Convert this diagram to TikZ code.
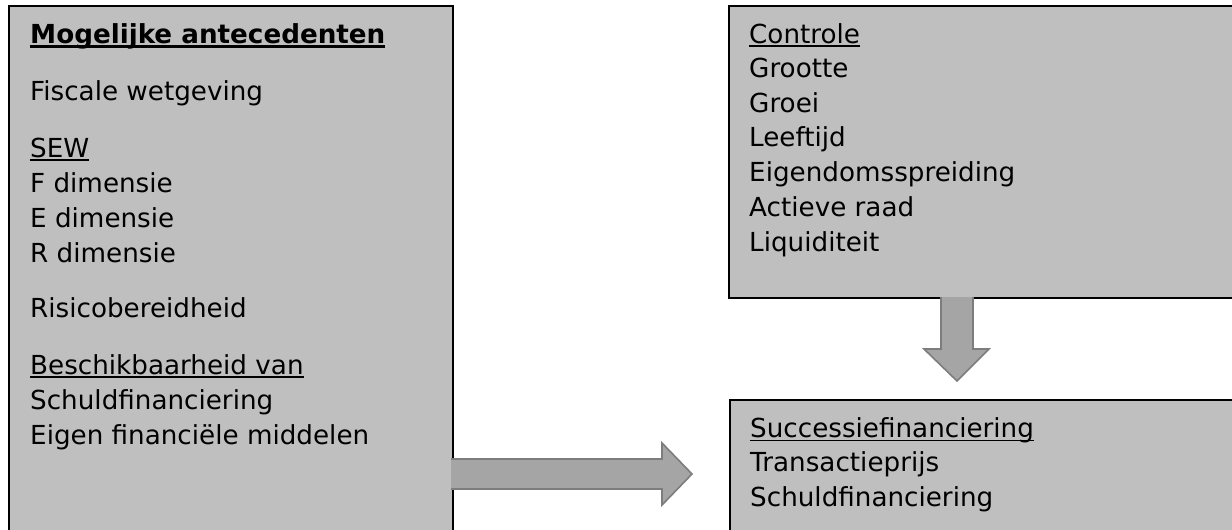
\documentclass[tikz,border=0pt]{standalone}
\usepackage{fontspec}
\setmainfont{DejaVu Sans}
\usetikzlibrary{calc}
\newcommand\myul[1]{\setbox0\hbox{#1}\rlap{\rule[-3.8pt]{\wd0}{1.4pt}}\box0}
\newcommand\myulb[1]{\setbox0\hbox{#1}\rlap{\rule[-4.8pt]{\wd0}{2.4pt}}\box0}
\definecolor{boxgray}{RGB}{191,191,191}
\definecolor{arrowgray}{RGB}{165,165,165}
\definecolor{arrowline}{RGB}{125,125,125}
\tikzset{
  box/.style={draw=black, line width=1.5pt, fill=boxgray, rectangle, inner sep=0pt, anchor=north west},
  txt/.style={anchor=base west, inner sep=0pt, font=\fontsize{26.2}{31}\selectfont},
  fatarrow/.style={draw=arrowline, line width=1.6pt, fill=arrowgray, line join=miter},
}
\begin{document}
\begin{tikzpicture}[x=1pt,y=-1pt]
\useasboundingbox (0,0) rectangle (1232,530);
\clip (0,0) rectangle (1232,530);
\fill[white] (0,0) rectangle (1232,530);
% boxes
\node[box, minimum width=444pt, minimum height=540pt] (ante) at (8,5) {};
\node[box, minimum width=520pt, minimum height=292pt] (contr) at (728,5) {};
\node[box, minimum width=520pt, minimum height=150pt] (succ) at (729,399) {};
% arrows
\draw[fatarrow] (451,459) -- (662,459) -- (662,443) -- (692,474) -- (662,505) -- (662,489) -- (451,489);
\draw[fatarrow] (941,297) -- (941,349) -- (924,349) -- (957,381) -- (989,349) -- (973,349) -- (973,297);
% left texts
\node[txt] (a1) at (30,43) {\bfseries\myulb{Mogelijke antecedenten}};
\node[txt] (a2) at (30,100) {Fiscale wetgeving};
\node[txt] (a3) at (30,157) {\myul{SEW}};
\node[txt] (a4) at (30,192) {F dimensie};
\node[txt] (a5) at (30,227) {E dimensie};
\node[txt] (a6) at (30,262) {R dimensie};
\node[txt] (a7) at (30,317) {Risicobereidheid};
\node[txt] (a8) at (30,374) {\myul{Beschikbaarheid van}};
\node[txt] (a9) at (30,409) {Schuldfinanciering};
\node[txt] (a10) at (30,444) {Eigen financiële middelen};
% top right texts
\node[txt] (c1) at (749,43) {\myul{Controle}};
\node[txt] (c2) at (749,77.5) {Grootte};
\node[txt] (c3) at (749,112) {Groei};
\node[txt] (c4) at (749,146.7) {Leeftijd};
\node[txt] (c5) at (749,181.7) {Eigendomsspreiding};
\node[txt] (c6) at (749,216.7) {Actieve raad};
\node[txt] (c7) at (749,251.7) {Liquiditeit};
% bottom right texts
\node[txt] (s1) at (750,437.3) {\myul{Successiefinanciering}};
\node[txt] (s2) at (750,471.7) {Transactieprijs};
\node[txt] (s3) at (750,506.7) {Schuldfinanciering};
\end{tikzpicture}
\end{document}
